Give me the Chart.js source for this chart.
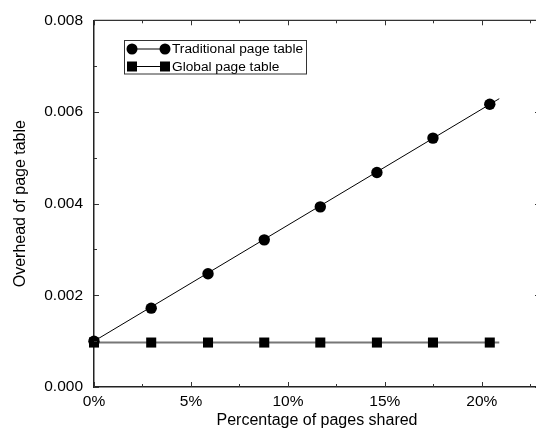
<!DOCTYPE html>
<html>
<head>
<meta charset="utf-8">
<script src="https://cdn.jsdelivr.net/npm/chart.js@4"></script>
<style>
  body { margin: 0; background: #fff; }
</style>
</head>
<body>
<canvas id="chart" width="536" height="430"></canvas>
<script>
// values
const sharedPct = [0, 2.95, 5.88, 8.78, 11.67, 14.59, 17.48, 20.41];
const traditional = [0.00100, 0.00172, 0.00247, 0.00321, 0.00393, 0.00468, 0.00543, 0.00617];
const globalTable = [0.00097, 0.00097, 0.00097, 0.00097, 0.00097, 0.00097, 0.00097, 0.00097];

// the fitted lines run a bit past the last marker
const lineEndsX = [0, 20.9];
const traditionalLine = [0.00100, 0.00629];
const globalLine = [0.00097, 0.00097];

const seriesNames = ['Traditional page table', 'Global page table'];

const FONT = 'Liberation Sans, Arial, sans-serif';

function pts(xs, ys) {
    return xs.map((x, i) => ({ x: x, y: ys[i] }));
}

// the original plot frame is cropped on the right, so push the area past the canvas edge
const cropPlugin = {
    id: 'crop',
    afterLayout(chart) {
        const xs = chart.scales.x;
        const right = 540;
        xs.right = right;
        xs.width = right - xs.left;
        chart.chartArea.right = right;
        chart.chartArea.width = right - chart.chartArea.left;
        xs.configure();
    }
};

// inward ticks, frame and the boxed legend
const framePlugin = {
    id: 'frame',
    afterDraw(chart) {
        const ctx = chart.ctx;
        const a = chart.chartArea;
        const xs = chart.scales.x;
        const ys = chart.scales.y;
        ctx.save();
        ctx.strokeStyle = '#333';
        ctx.lineWidth = 1.2;
        ctx.beginPath();
        ctx.moveTo(a.left, a.top);
        ctx.lineTo(a.right, a.top);
        ctx.lineTo(a.right, a.bottom);
        ctx.stroke();

        ctx.lineWidth = 1;
        ctx.beginPath();
        xs.ticks.forEach(t => {
            const px = Math.round(xs.getPixelForValue(t.value)) + 0.5;
            const len = (Math.abs(t.value % 5) < 1e-6) ? 5 : 3;
            ctx.moveTo(px, a.bottom);
            ctx.lineTo(px, a.bottom - len);
            ctx.moveTo(px, a.top);
            ctx.lineTo(px, a.top + len);
        });
        ys.ticks.forEach(t => {
            const py = Math.round(ys.getPixelForValue(t.value)) + 0.5;
            const len = (Math.round(t.value * 1000) % 2 === 0) ? 5 : 3;
            ctx.moveTo(a.left, py);
            ctx.lineTo(a.left + len, py);
            ctx.moveTo(a.right, py);
            ctx.lineTo(a.right - len, py);
        });
        ctx.stroke();

        // legend box
        const bx = 124.5, by = 40.5, bw = 182, bh = 33.5;
        ctx.strokeStyle = '#333';
        ctx.lineWidth = 1;
        ctx.strokeRect(bx, by, bw, bh);
        const rows = [49, 66.5];
        ctx.font = '13.7px ' + FONT;
        ctx.textBaseline = 'middle';
        ctx.textAlign = 'left';
        rows.forEach((ry, i) => {
            ctx.strokeStyle = '#000';
            ctx.lineWidth = 1;
            ctx.beginPath();
            ctx.moveTo(132, ry);
            ctx.lineTo(165, ry);
            ctx.stroke();
            ctx.fillStyle = '#000';
            [132, 165].forEach(mx => {
                ctx.beginPath();
                if (i === 0) {
                    ctx.arc(mx, ry, 5.5, 0, Math.PI * 2);
                } else {
                    ctx.rect(mx - 5, ry - 5, 10, 10);
                }
                ctx.fill();
            });
            ctx.fillText(seriesNames[i], 172, ry + 0.5);
        });
        ctx.restore();
    }
};

new Chart(document.getElementById('chart'), {
    type: 'scatter',
    data: {
        datasets: [
            {
                label: seriesNames[0] + ' line',
                data: pts(lineEndsX, traditionalLine),
                showLine: true,
                borderColor: '#000',
                borderWidth: 1,
                pointRadius: 0,
                order: 4
            },
            {
                label: seriesNames[1] + ' line',
                data: pts(lineEndsX, globalLine),
                showLine: true,
                borderColor: '#777',
                borderWidth: 2,
                pointRadius: 0,
                order: 3
            },
            {
                label: seriesNames[0],
                data: pts(sharedPct, traditional),
                pointStyle: 'circle',
                pointRadius: 5.7,
                pointBackgroundColor: '#000',
                pointBorderWidth: 0,
                order: 1
            },
            {
                label: seriesNames[1],
                data: pts(sharedPct, globalTable),
                pointStyle: 'rect',
                pointRadius: 7.1,
                pointBackgroundColor: '#000',
                pointBorderWidth: 0,
                order: 2
            }
        ]
    },
    options: {
        responsive: false,
        animation: false,
        clip: false,
        layout: { padding: { left: 0, top: 14, right: 0, bottom: 0 } },
        plugins: {
            legend: { display: false },
            tooltip: { enabled: false }
        },
        scales: {
            x: {
                type: 'linear',
                min: 0,
                max: 23,
                afterFit(scale) { scale.height = 43; },
                grid: { display: false, drawTicks: false },
                border: { display: true, color: '#222', width: 1.5 },
                ticks: {
                    stepSize: 2.5,
                    includeBounds: false,
                    autoSkip: false,
                    maxRotation: 0,
                    padding: 5,
                    color: '#000',
                    font: { family: FONT, size: 15.5 },
                    callback: v => (Math.abs(v % 5) < 1e-6) ? v + '%' : ''
                },
                title: {
                    display: true,
                    text: 'Percentage of pages shared',
                    color: '#000',
                    padding: { top: 3, bottom: 0 },
                    font: { family: FONT, size: 16 }
                }
            },
            y: {
                min: 0,
                max: 0.008,
                afterFit(scale) { scale.width = 94; },
                grid: { display: false, drawTicks: false },
                border: { display: true, color: '#222', width: 1.5 },
                ticks: {
                    stepSize: 0.001,
                    autoSkip: false,
                    padding: 11,
                    color: '#000',
                    font: { family: FONT, size: 15.5 },
                    callback: v => (Math.round(v * 1000) % 2 === 0) ? v.toFixed(3) : ''
                },
                title: {
                    display: true,
                    text: 'Overhead of page table',
                    color: '#000',
                    padding: { top: 10.5, bottom: 0 },
                    font: { family: FONT, size: 16 }
                }
            }
        }
    },
    plugins: [cropPlugin, framePlugin]
});
</script>
</body>
</html>
